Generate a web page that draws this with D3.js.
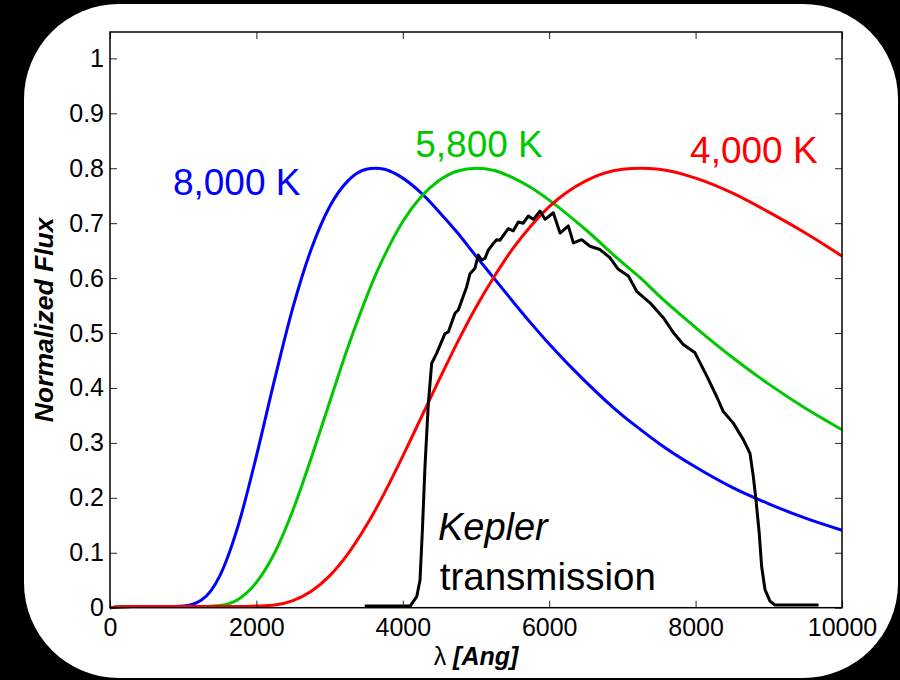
<!DOCTYPE html>
<html>
<head>
<meta charset="utf-8">
<script src="https://cdn.jsdelivr.net/npm/d3@7"></script>
<style>
  body { margin: 0; background: #000; }
  svg { display: block; }
  text { font-family: "Liberation Sans", Arial, Helvetica, sans-serif; }
</style>
</head>
<body>
<div id="chart"></div>
<script>
// wavelength grid (Angstrom) shared by the three blackbody curves
var wave = [0, 300, 500, 750, 1000, 1250, 1500, 1750, 2000, 2250, 2500, 2750, 3000, 3250, 3500, 3625, 3750,
  4000, 4250, 4500, 4750, 5000, 5250, 5500, 5750, 6000, 6500, 7000, 7250, 7500, 8000, 8500, 9000, 9500, 10000];

var flux8000 = [0, 0.002, 0.002, 0.002, 0.003, 0.014, 0.058, 0.149, 0.276, 0.416, 0.547, 0.653, 0.730, 0.777, 0.798, 0.800, 0.798,
  0.782, 0.755, 0.720, 0.682, 0.640, 0.599, 0.558, 0.518, 0.480, 0.411, 0.350, 0.324, 0.299, 0.256, 0.219, 0.189, 0.163, 0.141];

var flux5800 = [0, 0.002, 0.002, 0.002, 0.002, 0.002, 0.004, 0.015, 0.046, 0.100, 0.178, 0.273, 0.374, 0.474, 0.564, 0.605, 0.641,
  0.703, 0.748, 0.778, 0.795, 0.800, 0.796, 0.783, 0.765, 0.742, 0.688, 0.628, 0.600, 0.568, 0.510, 0.456, 0.407, 0.363, 0.324];

var flux4000 = [0, 0.002, 0.002, 0.002, 0.002, 0.002, 0.002, 0.002, 0.003, 0.005, 0.013, 0.030, 0.058, 0.098, 0.149, 0.178, 0.209,
  0.276, 0.346, 0.416, 0.484, 0.547, 0.603, 0.653, 0.695, 0.730, 0.777, 0.798, 0.800, 0.798, 0.782, 0.755, 0.720, 0.682, 0.640];

// Kepler bandpass
var keplerWave = [3480, 4100, 4190, 4235, 4266, 4303, 4348, 4395, 4462, 4576, 4622, 4713, 4758, 4872, 4918, 4986,
  5031, 5077, 5123, 5168, 5236, 5282, 5328, 5396, 5441, 5510, 5578, 5646, 5714, 5783, 5874, 5943, 6056, 6148,
  6261, 6330, 6444, 6557, 6694, 6831, 6944, 7081, 7195, 7377, 7559, 7695, 7832, 7992, 8152, 8289, 8378, 8515,
  8652, 8743, 8788, 8825, 8869, 8902, 8948, 9016, 9084, 9680];
var keplerFlux = [0.003, 0.003, 0.02, 0.05, 0.136, 0.257, 0.37, 0.445, 0.463, 0.499, 0.502, 0.536, 0.542, 0.584, 0.608, 0.618,
  0.642, 0.633, 0.636, 0.651, 0.663, 0.670, 0.669, 0.682, 0.690, 0.686, 0.702, 0.700, 0.713, 0.707, 0.722, 0.707, 0.719, 0.682,
  0.695, 0.664, 0.670, 0.658, 0.652, 0.637, 0.616, 0.604, 0.576, 0.555, 0.528, 0.501, 0.479, 0.464, 0.422, 0.384, 0.357, 0.336,
  0.306, 0.281, 0.239, 0.196, 0.136, 0.075, 0.033, 0.012, 0.005, 0.005];

var xTicks = [0, 2000, 4000, 6000, 8000, 10000];
var yTicks = [0, 0.1, 0.2, 0.3, 0.4, 0.5, 0.6, 0.7, 0.8, 0.9, 1];

var series = [
  {name: "8,000 K", vals: flux8000, color: "#0000ff", lx: 860, ly: 0.751},
  {name: "5,800 K", vals: flux5800, color: "#00c800", lx: 4170, ly: 0.820},
  {name: "4,000 K", vals: flux4000, color: "#ff0000", lx: 7925, ly: 0.809}
];

//Config
var width = 900, height = 680;
var plotLeft = 110, plotRight = 842, plotTop = 32, plotBottom = 607.7;

var svg = d3.select("#chart").append("svg")
  .attr("width", width)
  .attr("height", height);

svg.append("rect")
  .attr("width", width).attr("height", height)
  .attr("fill", "#000");

// white rounded panel
svg.append("rect")
  .attr("x", 24).attr("y", 4)
  .attr("width", 874).attr("height", 674)
  .attr("rx", 95).attr("ry", 95)
  .attr("fill", "#fff");

var x = d3.scaleLinear().domain([0, 10000]).range([plotLeft, plotRight]);
var y = d3.scaleLinear().domain([0, 1.048]).range([plotBottom, plotTop]);

var line = d3.line()
  .x(function(d) { return x(d[0]); })
  .y(function(d) { return y(d[1]); })
  .curve(d3.curveMonotoneX);

var plot = svg.append("g");

series.forEach(function(s) {
  plot.append("path")
    .datum(d3.zip(wave, s.vals))
    .attr("fill", "none")
    .attr("stroke", s.color)
    .attr("stroke-width", 3)
    .attr("d", line);
});

plot.append("path")
  .datum(d3.zip(keplerWave, keplerFlux))
  .attr("fill", "none")
  .attr("stroke", "#000")
  .attr("stroke-width", 3)
  .attr("stroke-linejoin", "round")
  .attr("d", line.curve(d3.curveLinear));

// axes, ticks pointing inwards on all four sides
function styleAxis(g) {
  g.selectAll(".tick line").attr("stroke", "#222");
  g.selectAll("text")
    .attr("fill", "#000")
    .style("font-size", "25px");
  g.select(".domain").remove();
}

svg.append("g")
  .attr("transform", "translate(0," + plotBottom + ")")
  .call(d3.axisBottom(x).tickValues(xTicks).tickSize(-7).tickPadding(11).tickFormat(d3.format("d")))
  .call(styleAxis);

svg.append("g")
  .attr("transform", "translate(0," + plotTop + ")")
  .call(d3.axisTop(x).tickValues(xTicks).tickSize(-7).tickFormat(""))
  .call(styleAxis);

svg.append("g")
  .attr("transform", "translate(" + plotLeft + ",0)")
  .call(d3.axisLeft(y).tickValues(yTicks).tickSize(-7).tickPadding(6).tickFormat(function(d) { return String(d); }))
  .call(styleAxis);

svg.append("g")
  .attr("transform", "translate(" + plotRight + ",0)")
  .call(d3.axisRight(y).tickValues(yTicks).tickSize(-7).tickFormat(""))
  .call(styleAxis);

svg.append("rect")
  .attr("x", plotLeft).attr("y", plotTop)
  .attr("width", plotRight - plotLeft).attr("height", plotBottom - plotTop)
  .attr("fill", "none")
  .attr("stroke", "#000")
  .attr("stroke-width", 1.5);

// curve labels
svg.selectAll(".tlabel")
  .data(series)
  .enter()
  .append("text")
  .attr("class", "tlabel")
  .attr("x", function(d) { return x(d.lx); })
  .attr("y", function(d) { return y(d.ly); })
  .attr("fill", function(d) { return d.color; })
  .style("font-size", "37px")
  .text(function(d) { return d.name; });

svg.append("text")
  .attr("x", x(4480)).attr("y", y(0.123))
  .style("font-size", "38px")
  .style("font-style", "italic")
  .text("Kepler");

svg.append("text")
  .attr("x", x(4505)).attr("y", y(0.032))
  .style("font-size", "38.5px")
  .text("transmission");

// axis titles
var xl = svg.append("text")
  .attr("x", (plotLeft + plotRight) / 2).attr("y", 665)
  .attr("text-anchor", "middle")
  .style("font-size", "25px");
xl.append("tspan").text("λ ");
xl.append("tspan").style("font-weight", "bold").style("font-style", "italic").text("[Ang]");

svg.append("text")
  .attr("transform", "translate(53," + ((plotTop + plotBottom) / 2) + ") rotate(-90)")
  .attr("text-anchor", "middle")
  .style("font-size", "26.5px")
  .style("font-weight", "bold")
  .style("font-style", "italic")
  .text("Normalized Flux");
</script>
</body>
</html>
